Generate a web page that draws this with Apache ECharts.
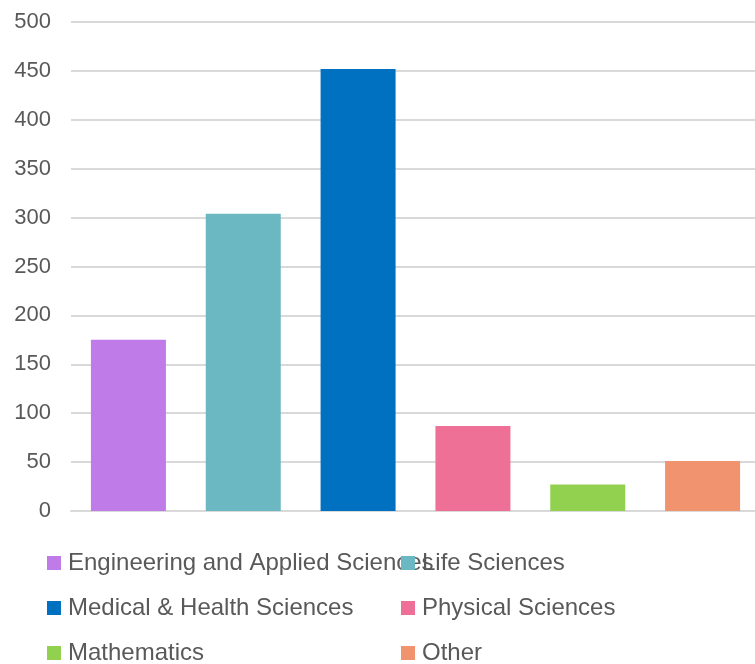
<!DOCTYPE html>
<html>
<head>
<meta charset="utf-8">
<script src="https://cdn.jsdelivr.net/npm/echarts@6/dist/echarts.min.js"></script>
<style>
html,body{margin:0;padding:0;background:#fff;overflow:hidden;}
#chart{width:760px;height:664px;}
</style>
</head>
<body>
<div id="chart"></div>
<script>
var categories = ['Engineering and Applied Sciences', 'Life Sciences', 'Medical & Health Sciences', 'Physical Sciences', 'Mathematics', 'Other'];
var values = [175, 304, 452, 87, 27, 51];
var yTicks = [0, 50, 100, 150, 200, 250, 300, 350, 400, 450, 500];

var palette = ['#BF7BE8', '#6BB8C2', '#0070C0', '#EE7096', '#92D050', '#F0936E'];
var font = '"Liberation Sans", Arial, sans-serif';
var textColor = '#595959';

var series = categories.map(function (name, i) {
  return {
    name: name,
    type: 'bar',
    stack: 'all',
    barWidth: 75,
    itemStyle: { color: palette[i] },
    data: categories.map(function (c, j) { return j === i ? values[i] : '-'; })
  };
});

var legendPos = [
  { left: 47, top: 551 }, { left: 401, top: 551 },
  { left: 47, top: 596 }, { left: 401, top: 596 },
  { left: 47, top: 641 }, { left: 401, top: 641 }
];
var legends = categories.map(function (name, i) {
  return {
    data: [name],
    left: legendPos[i].left,
    top: legendPos[i].top,
    padding: 0,
    icon: 'rect',
    itemWidth: 14,
    itemHeight: 14,
    selectedMode: false,
    textStyle: { color: textColor, fontSize: 24, fontFamily: font, padding: [0, 0, 0, 2] }
  };
});

var chart = echarts.init(document.getElementById('chart'));
chart.setOption({
  animation: false,
  backgroundColor: '#fff',
  legend: legends,
  grid: { left: 71, right: 0, top: 22, bottom: 153, containLabel: false },
  xAxis: {
    type: 'category',
    data: categories,
    axisLabel: { show: false },
    axisTick: { show: false },
    axisLine: { show: true, lineStyle: { color: '#d9d9d9', width: 2 } }
  },
  yAxis: {
    type: 'value',
    min: yTicks[0],
    max: yTicks[yTicks.length - 1],
    interval: 50,
    axisLine: { show: false },
    axisTick: { show: false },
    axisLabel: { color: textColor, fontSize: 22, fontFamily: font, margin: 20 },
    splitLine: { lineStyle: { color: '#d9d9d9', width: 2 } }
  },
  series: series
});
</script>
</body>
</html>
